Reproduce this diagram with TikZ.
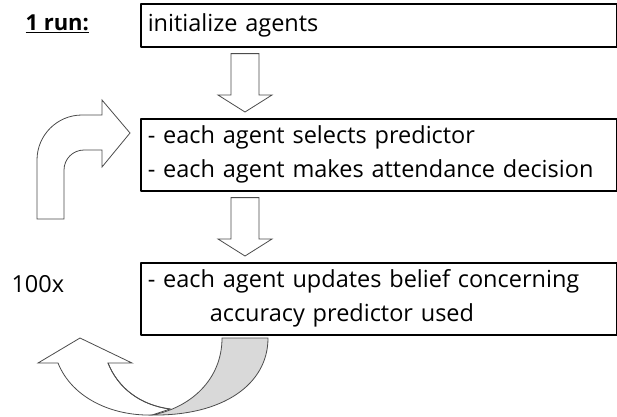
\documentclass[tikz,border=0pt]{standalone}
\usepackage{fontspec}
\setmainfont{Open Sans}
\usetikzlibrary{calc}
\tikzset{
  stepbox/.style={draw, line width=1.6pt, anchor=north west, minimum width=476pt,
    text width=462pt, align=left, inner xsep=7pt, inner ysep=0pt},
  blockarrow/.style={draw=black!70, line width=0.8pt, fill=white, line join=miter},
}
\begin{document}
\begin{tikzpicture}[x=1pt, y=-1pt, font=\fontsize{23.5}{34}\selectfont, line join=round]
\useasboundingbox (0,0) rectangle (617,416);
% Kaesten (Koordinaten in Pixeln, y nach unten)
\node[stepbox, minimum height=43pt] (init) at (140,3) {initialize agents};
\node[stepbox, minimum height=72pt] (decide) at (140,118)
  {- each agent selects predictor\\- each agent makes attendance decision};
\node[stepbox, minimum height=72pt] (update) at (140,262)
  {- each agent updates belief concerning\\\hspace*{62pt}accuracy predictor used};
% Beschriftungen links
\node[anchor=west, font=\fontsize{22}{34}\selectfont\bfseries] (run) at (22,24) {\underline{1 run:}};
\node[anchor=west] (times) at (8,284) {100x};
% Blockpfeile zwischen den Kaesten
\def\sw{14pt} % halbe Schaftbreite
\def\hw{27pt} % halbe Kopfbreite
\def\hl{17pt} % Kopflaenge
\foreach \a/\b in {init/decide, decide/update}
  \draw[blockarrow] let \p1=($(\a.south west)+(105,6)$), \p2=($(\b.north west)+(105,-6)$) in
    (\x1-\sw,\y1) -- (\x1+\sw,\y1) -- (\x1+\sw,\y2+\hl) -- (\x1+\hw,\y2+\hl)
    -- (\x1,\y2) -- (\x1-\hw,\y2+\hl) -- (\x1-\sw,\y2+\hl) -- cycle;
% gebogener Pfeil oben links
\draw[blockarrow] (37,219) -- (37,160) arc[start angle=180, end angle=270, radius=45]
  -- (102,115) -- (102,100) -- (130,133) -- (102,167) -- (102,150) -- (84,150)
  arc[start angle=270, end angle=180, radius=20] -- (64,219) -- cycle;
% Rueckfuehrung unten (weisse und graue Haelfte)
\draw[blockarrow] (58,363) .. controls (72,398) and (112,416) .. (152,415) -- (170,409)
  .. controls (140,405) and (118,388) .. (108,363) -- (132,363) -- (80,338) -- (38,363) -- cycle;
\draw[blockarrow, fill=gray!30] (222,338) -- (268,338) .. controls (268,385) and (222,416) .. (152,415)
  .. controls (190,408) and (222,380) .. (222,338) -- cycle;
\draw[blockarrow, fill=none] (170,409) .. controls (140,405) and (118,388) .. (108,363);
\end{tikzpicture}
\end{document}
